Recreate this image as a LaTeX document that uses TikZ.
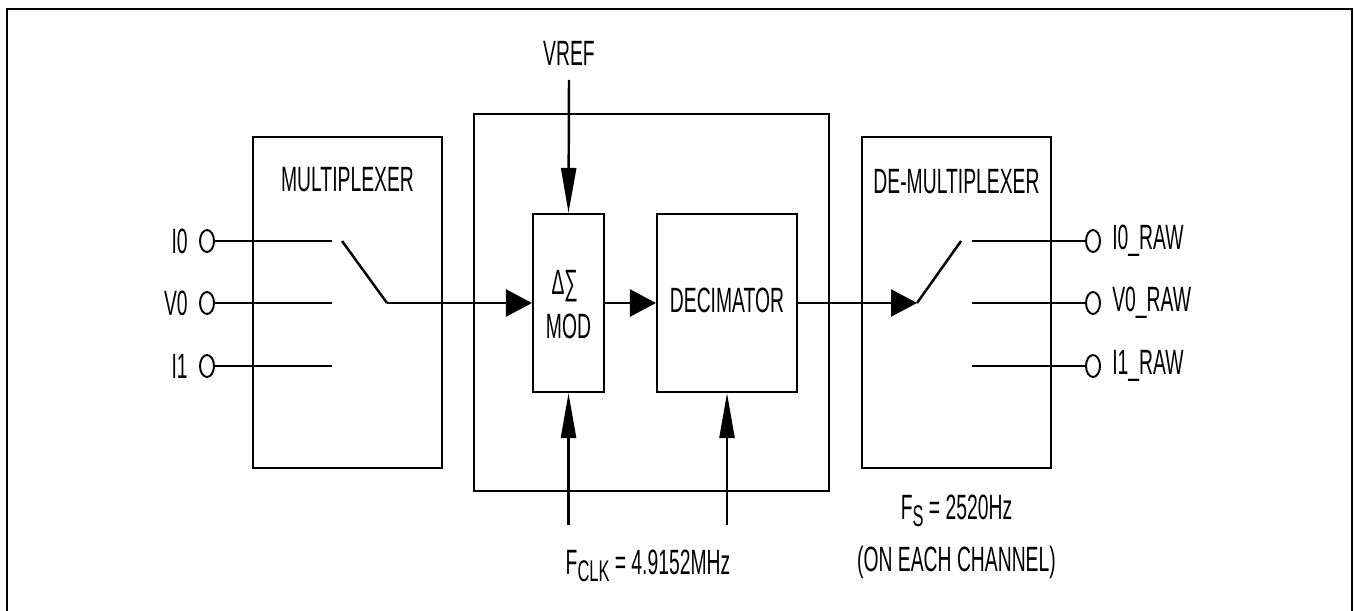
\documentclass[tikz,border=0pt]{standalone}
\usepackage{fontspec}
\setmainfont{Liberation Sans}[FakeStretch=0.55]
\usetikzlibrary{arrows.meta,shapes.geometric,positioning}

\tikzset{
  block/.style={draw, line width=1.2pt, inner sep=0pt},
  wire/.style={line width=1.4pt},
  harrow/.style={wire, -{Triangle[length=0.52cm, width=0.54cm]}},
  varrow/.style={wire, -{Triangle[length=0.9cm, width=0.3cm]}},
  port/.style={draw, ellipse, line width=1.1pt, minimum width=0.28cm, minimum height=0.44cm, inner sep=0pt},
  txt/.style={inner sep=0pt, font=\fontsize{20}{24}\selectfont},
}
\newcommand{\sublbl}[1]{\raisebox{-0.4ex}{\fontsize{17}{17}\selectfont #1}}

\begin{document}
\begin{tikzpicture}[x=0.02cm, y=-0.02cm]

\useasboundingbox (0,0) rectangle (1354,611);
\draw[line width=1.4pt] (7,9) rectangle (1352,614);

% blocks
\node[block, minimum width=3.78cm, minimum height=6.62cm] (mux) at (347.5,302.5) {};
\node[block, minimum width=7.1cm, minimum height=7.54cm] (core) at (651.5,302.5) {};
\node[block, minimum width=1.42cm, minimum height=3.56cm] (mod) at (568.5,303) {};
\node[block, minimum width=2.8cm, minimum height=3.56cm] (dec) at (727,303) {};
\node[block, minimum width=3.78cm, minimum height=6.62cm] (demux) at (956.5,302.5) {};

\node[txt] at (347.5,180) {MULTIPLEXER};
\node[txt] at (956.5,182) {DE-MULTIPLEXER};
\node[txt] at (565,286) {∆∑};
\node[txt] at (568.5,326) {MOD};
\node[txt] at (727,300) {DECIMATOR};

% inputs
\node[port] (i0) at (207,241) {};
\node[port] (v0) at (207,303) {};
\node[port] (i1) at (207,366) {};
\node[txt, left=0.22cm of i0] {I0};
\node[txt, left=0.22cm of v0] {V0};
\node[txt, left=0.22cm of i1] {I1};

\coordinate (i0c) at (332,241);
\coordinate (v0c) at (332,303);
\coordinate (i1c) at (332,366);
\draw[wire] (i0) -- (i0c);
\draw[wire] (v0) -- (v0c);
\draw[wire] (i1) -- (i1c);

% mux switch
\coordinate (mxa) at (342,241);
\coordinate (mxb) at (387,303);
\draw[wire] (mxa) -- (mxb);
\draw[harrow] (mxb) -- (mod.west);
\draw[harrow] (mod.east) -- (dec.west);

% demux switch
\coordinate (dmb) at (917,303);
\coordinate (dma) at (961,241);
\draw[harrow] (dec.east) -- (dmb);
\draw[wire] (dmb) -- (dma);

% outputs
\node[port] (o0) at (1093,241) {};
\node[port] (o1) at (1093,303) {};
\node[port] (o2) at (1093,366) {};
\node[txt, right=0.22cm of o0] {I0\_RAW};
\node[txt, right=0.22cm of o1] {V0\_RAW};
\node[txt, right=0.22cm of o2] {I1\_RAW};

\coordinate (o0c) at (972,241);
\coordinate (o1c) at (972,303);
\coordinate (o2c) at (972,366);
\draw[wire] (o0c) -- (o0);
\draw[wire] (o1c) -- (o1);
\draw[wire] (o2c) -- (o2);

% reference and clocks
\node[txt] (vref) at (569,53) {VREF};
\coordinate (vtop) at (569,80);
\draw[varrow] (vtop) -- (mod.north);

\coordinate (ck1) at (568.5,525);
\coordinate (ck2) at (727,525);
\draw[varrow] (ck1) -- (mod.south);
\draw[varrow] (ck2) -- (dec.south);

\node[txt, anchor=base] (fclk) at (648,574) {F\sublbl{CLK} = 4.9152MHz};
\node[txt, anchor=base] (fs) at (956.5,519) {F\sublbl{S} = 2520Hz};
\node[txt, anchor=base] (chan) at (956.5,571) {(ON EACH CHANNEL)};

\end{tikzpicture}
\end{document}
